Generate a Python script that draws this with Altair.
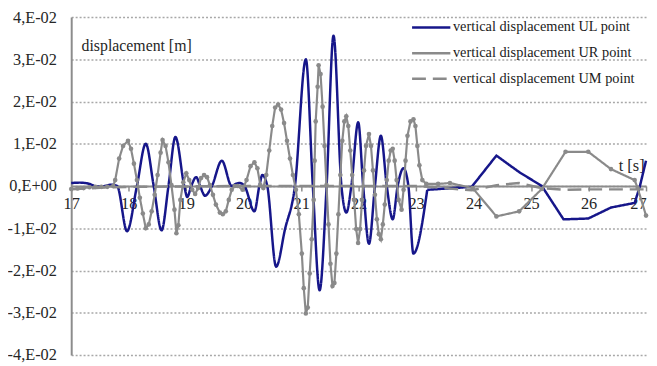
import altair as alt
import pandas as pd

SERIES = [
    "vertical displacement UL point",
    "vertical displacement UR point",
    "vertical displacement UM point",
]
COLORS = ["#16168a", "#8a8a8a", "#8a8a8a"]
DASHES = [[1, 0], [1, 0], [14, 7]]

x_ticks = [17, 18, 19, 20, 21, 22, 23, 24, 25, 26, 27]
y_ticks = [-0.04, -0.03, -0.02, -0.01, 0.0, 0.01, 0.02, 0.03, 0.04]
y_labels = ["-4,E-02", "-3,E-02", "-2,E-02", "-1,E-02", "0,E+00",
            "1,E-02", "2,E-02", "3,E-02", "4,E-02"]

# UL point (blue) - smooth until ~23.2 s, then coarse
ul_t = [17.0, 17.146, 17.318, 17.438, 17.576, 17.696, 17.799, 17.971, 18.143, 18.297,
        18.435, 18.572, 18.692, 18.813, 18.967, 19.019, 19.088, 19.174, 19.242, 19.328,
        19.448, 19.620, 19.792, 19.861, 19.930, 20.015, 20.187, 20.273, 20.325, 20.411,
        20.565, 20.720, 20.892, 21.082, 21.203, 21.321, 21.443, 21.563, 21.701, 21.787,
        21.873, 21.993, 22.079, 22.180, 22.284, 22.387, 22.490, 22.593, 22.679, 22.780,
        22.866, 22.952, 23.194, 23.967, 24.397, 24.792, 25.187, 25.565, 25.995, 26.390,
        26.802, 26.890, 27.0]
ul_v = [0.0007, 0.0008, 0.0005, -0.0001, 0.0, 0.0003, 0.0, -0.0107, 0.0, 0.0100,
        0.0, -0.0105, 0.0, 0.0116, 0.0, -0.0026, 0.0, 0.0021, 0.0, -0.0023,
        0.0, 0.0060, 0.0, 0.0005, 0.0007, 0.0, -0.0060, 0.0, 0.0026, 0.0,
        -0.0191, -0.0102, 0.0, 0.0300, 0.0, -0.0247, 0.0, 0.0356, 0.0, -0.0063,
        0.0, 0.0151, 0.0, -0.0137, 0.0, 0.0119, 0.0, -0.0079, 0.0, 0.0042,
        0.0, -0.0160, -0.0009, -0.0002, 0.0072, 0.0033, 0.0, -0.0079, -0.0077, -0.0051,
        -0.0040, -0.0002, 0.0060]
UL_SMOOTH_END = 23.194

# UR point (grey with markers)
ur_t = [17.0, 17.112, 17.215, 17.318, 17.421, 17.524, 17.627, 17.730, 17.765, 17.834,
        17.902, 17.988, 18.040, 18.091, 18.143, 18.194, 18.246, 18.297, 18.349, 18.400,
        18.452, 18.503, 18.555, 18.589, 18.641, 18.692, 18.744, 18.796, 18.830, 18.864,
        18.899, 18.950, 19.002, 19.053, 19.105, 19.156, 19.208, 19.259, 19.311, 19.362,
        19.414, 19.466, 19.517, 19.586, 19.637, 19.689, 19.741, 19.792, 19.844, 19.895,
        19.981, 20.050, 20.119, 20.187, 20.239, 20.290, 20.342, 20.393, 20.445, 20.497,
        20.548, 20.600, 20.651, 20.703, 20.754, 20.806, 20.857, 20.909, 20.960, 21.012,
        21.046, 21.081, 21.115, 21.149, 21.184, 21.218, 21.235, 21.253, 21.287, 21.304,
        21.338, 21.373, 21.407, 21.441, 21.476, 21.510, 21.545, 21.579, 21.613, 21.648,
        21.682, 21.716, 21.751, 21.785, 21.820, 21.854, 21.888, 21.923, 21.957, 21.991,
        22.026, 22.060, 22.094, 22.129, 22.180, 22.215, 22.249, 22.284, 22.318, 22.352,
        22.387, 22.421, 22.455, 22.490, 22.524, 22.558, 22.593, 22.627, 22.661, 22.696,
        22.747, 22.782, 22.816, 22.850, 22.902, 22.954, 22.988, 23.022, 23.057, 23.108,
        23.177, 23.383, 23.589, 23.985, 24.397, 24.792, 25.187, 25.600, 25.995, 26.390,
        26.802, 26.854, 27.0]
ur_v = [-0.0007, -0.0006, -0.0005, -0.0003, -0.0002, -0.0002, -0.0002, 0.0, 0.0014, 0.0065,
        0.0095, 0.0107, 0.0088, 0.0053, 0.0014, -0.0028, -0.0065, -0.0100, -0.0091, -0.0060,
        -0.0021, 0.0026, 0.0079, 0.0109, 0.0095, 0.0056, 0.0002, -0.0056, -0.0112, -0.0093,
        -0.0033, 0.0009, 0.0030, 0.0014, -0.0009, -0.0019, -0.0005, 0.0019, 0.0026, 0.0021,
        0.0002, -0.0021, -0.0044, -0.0063, -0.0067, -0.0060, -0.0033, -0.0009, 0.0, 0.0,
        -0.0009, 0.0014, 0.0047, 0.0056, 0.0042, 0.0002, -0.0005, 0.0026, 0.0084, 0.0142,
        0.0186, 0.0193, 0.0181, 0.0149, 0.0107, 0.0065, 0.0026, -0.0009, -0.0067, -0.0160,
        -0.0242, -0.0302, -0.0288, -0.0207, -0.0126, -0.0033, 0.0060, 0.0153, 0.0235, 0.0286,
        0.0265, 0.0188, 0.0095, 0.0002, -0.0091, -0.0184, -0.0237, -0.0230, -0.0160, -0.0067,
        0.0026, 0.0107, 0.0153, 0.0165, 0.0142, 0.0084, 0.0026, -0.0033, -0.0102, -0.0135,
        -0.0102, -0.0033, 0.0037, 0.0095, 0.0123, 0.0095, 0.0037, -0.0021, -0.0079, -0.0114,
        -0.0126, -0.0091, -0.0044, 0.0014, 0.0060, 0.0084, 0.0088, 0.0060, 0.0014, -0.0033,
        -0.0056, -0.0009, 0.0060, 0.0119, 0.0153, 0.0158, 0.0142, 0.0095, 0.0049, 0.0014,
        0.0005, 0.0005, 0.0007, -0.0005, -0.0072, -0.0060, -0.0007, 0.0081, 0.0081, 0.0040,
        0.0014, -0.0005, -0.0070]

# UM point (grey dashed)
um_t = [17.0, 17.5, 18.0, 19.0, 20.0, 21.0, 22.0, 23.0, 23.5, 23.97,
        24.4, 24.79, 25.19, 25.6, 26.0, 26.5, 27.0]
um_v = [-0.0008, -0.0004, -0.0002, -0.0001, 0.0, 0.0, 0.0, 0.0, -0.0005, -0.0010,
        0.0002, 0.0007, -0.0005, -0.0009, -0.0008, -0.0008, -0.0008]

assert len(ul_t) == len(ul_v)
assert len(ur_t) == len(ur_v)
assert len(um_t) == len(um_v)

rows = []
for name, ts, vs in zip(SERIES, [ul_t, ur_t, um_t], [ul_v, ur_v, um_v]):
    for t, v in zip(ts, vs):
        rows.append({"t": t, "v": v, "series": name})
df = pd.DataFrame(rows)

FONT = "'Liberation Serif', 'Times New Roman', serif"
TXT = "#262626"
AXIS_GRAY = "#8c8c8c"

label_expr = " : ".join(
    f"abs(datum.value - ({v})) < 1e-9 ? '{lab}'" for v, lab in zip(y_ticks, y_labels)
) + " : ''"

W, H = 582, 342

x_enc = alt.X(
    "t:Q",
    scale=alt.Scale(domain=[17, 27], nice=False, zero=False),
    axis=alt.Axis(
        values=x_ticks, offset=-H / 2, grid=False, format="d",
        domainColor=AXIS_GRAY, domainWidth=2, tickColor=AXIS_GRAY, tickSize=5,
        tickWidth=1.5, labelFont=FONT, labelFontSize=16.5, labelColor=TXT,
        labelPadding=5, labelFlush=False, labelOverlap=False,
        labelAlign={"expr": f"datum.value >= {x_ticks[-1]} ? 'right' : 'center'"},
        title="t [s]", titleFont=FONT, titleFontSize=16.5, titleFontWeight="normal",
        titleColor=TXT, titleAlign="right", titleBaseline="middle",
        titleX=580, titleY=-21,
    ),
)
y_enc = alt.Y(
    "v:Q",
    scale=alt.Scale(domain=[-0.04, 0.04], nice=False),
    axis=alt.Axis(
        values=y_ticks, labelExpr=label_expr, grid=True, gridColor="#a8a8a8",
        gridDash=[2, 2], gridWidth=1.5, domainColor=AXIS_GRAY, domainWidth=2,
        ticks=False, labelFont=FONT, labelFontSize=16.5, labelColor=TXT,
        labelPadding=15,
        title="displacement [m]", titleFont=FONT, titleFontSize=16,
        titleFontWeight="normal", titleColor=TXT, titleAngle=0,
        titleAlign="left", titleBaseline="middle", titleX=10, titleY=29,
    ),
)

legend = alt.Legend(
    orient="none", legendX=347.5, legendY=-6.5, title=None,
    symbolType="M-1.25,0H1.25", symbolSize=961, symbolStrokeWidth=2.5,
    labelFont=FONT, labelFontSize=14.5, labelColor="#1a1a1a", labelOffset=5,
    rowPadding=2, padding=0, labelLimit=400,
)
color_enc = alt.Color("series:N", scale=alt.Scale(domain=SERIES, range=COLORS), legend=legend)
dash_enc = alt.StrokeDash("series:N", scale=alt.Scale(domain=SERIES, range=DASHES), legend=legend)

base = alt.Chart(df)

ul_smooth = base.mark_line(strokeWidth=2.5, interpolate="monotone").encode(
    x=x_enc, y=y_enc, color=color_enc, strokeDash=dash_enc
).transform_filter(
    f"datum.series == '{SERIES[0]}' && datum.t <= {UL_SMOOTH_END}"
)
ul_coarse = base.mark_line(strokeWidth=2.5).encode(
    x=x_enc, y=y_enc, color=color_enc, strokeDash=dash_enc
).transform_filter(
    f"datum.series == '{SERIES[0]}' && datum.t >= {UL_SMOOTH_END}"
)
ur_line = base.mark_line(strokeWidth=2.2).encode(
    x=x_enc, y=y_enc, color=color_enc, strokeDash=dash_enc
).transform_filter(f"datum.series == '{SERIES[1]}'")
ur_pts = base.mark_point(filled=True, size=22, opacity=1, shape="circle").encode(
    x=x_enc, y=y_enc, color=alt.value(COLORS[1])
).transform_filter(f"datum.series == '{SERIES[1]}'")
um_line = base.mark_line(strokeWidth=2.5).encode(
    x=x_enc, y=y_enc, color=color_enc, strokeDash=dash_enc
).transform_filter(f"datum.series == '{SERIES[2]}'")

chart = alt.layer(ul_smooth, ul_coarse, ur_line, ur_pts, um_line).properties(
    width=W, height=H,
    autosize=alt.AutoSizeParams(type="none"),
    padding={"left": 64, "top": 7, "right": 3, "bottom": 8},
    background="white",
).configure_view(stroke=None)

chart.save("out.html", embed_options={"renderer": "svg", "actions": False})
